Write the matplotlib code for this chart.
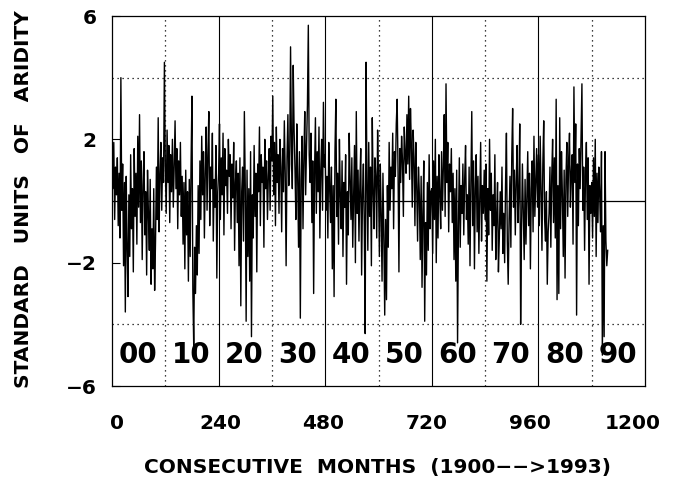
# aridity index, monthly, 1900 -> 1993
# values, one value per 2 months
# (each list is one decade, starts at month 120*k)

import numpy as np
import matplotlib.pyplot as plt
from matplotlib.transforms import ScaledTranslation

d1900 = [1.6, 0.4, 1.9, -0.6, 1.1, 0.2, 1.4, -0.8, 0.9, -1.2, 4.0, -0.3, 1.2, -2.1, 0.6,
         -3.6, 0.8, -1.5, -3.1, 0.2, -1.8, 1.5, -0.9, 0.4, -2.3, 1.7, -0.5, 0.9, -1.4, 2.1,
         -0.2, 2.8, -0.7, 1.3, -1.9, 0.5, 1.6, -1.1, 0.3, -2.4, 1.0, -0.4, -1.6, 0.7, -2.7,
         -0.9, -2.2, 0.4, -2.9, -1.3, 1.1, -0.6, 2.7, -1.0, 0.8, 1.9, -0.3, 1.4, 0.6, 4.5]
d1910 = [1.2, -0.4, 2.3, 0.6, 1.8, -0.7, 1.5, 0.3, 2.0, -0.2, 1.1, 2.6, 0.4, 1.7, -0.9,
         1.3, 0.2, 1.9, -0.5, 0.8, -1.4, 0.6, -2.2, 1.0, -1.1, 0.3, -2.6, 0.7, -1.8, 1.2,
         3.4, -2.9, -4.7, -1.5, -3.0, -0.8, -2.4, 0.5, -1.7, 1.3, -0.6, 2.1, 0.2, 1.6, -1.2,
         0.9, 2.4, -0.3, 1.5, 2.9, -0.8, 1.1, 0.4, 2.2, -1.3, 0.7, -0.2, 1.8, -2.5, 0.3]
d1920 = [0.9, 2.5, -0.6, 1.4, 0.2, 2.2, -1.1, 1.7, 0.5, 1.0, -0.4, 2.0, 0.8, 1.5, -0.9,
         1.2, 0.1, 1.9, -1.6, 0.6, 1.3, -0.7, 0.9, -2.1, 1.4, -3.4, 0.3, 1.1, -1.3, 2.9,
         0.5, -3.9, 1.0, -1.8, 0.4, -2.6, 1.6, -4.4, 0.2, -1.2, 1.8, -0.5, 0.9, -2.3, 1.2,
         0.3, 2.4, -0.8, 1.5, 0.6, 1.1, -1.5, 2.0, 0.4, 1.3, -0.6, 0.8, 1.7, -0.3, 2.1]
d1930 = [1.3, 3.4, 0.2, 1.9, -0.8, 2.4, 0.6, 1.5, -0.4, 2.0, 1.1, -1.0, 1.7, 0.3, 2.6,
         0.9, -2.1, 1.4, 2.8, 0.5, 1.2, 5.0, 1.8, 0.4, 4.4, 2.3, 1.0, -0.6, 2.5, 0.8,
         -1.5, 1.6, -3.8, 0.7, 2.1, -0.9, 1.4, 2.9, 0.2, 1.8, 3.1, 5.7, 1.5, 0.6, 2.2,
         -0.7, 1.3, -3.0, 0.9, 2.7, -0.4, 1.6, 0.3, 2.4, -1.2, 1.0, 2.0, -0.3, 3.2, 1.1]
d1940 = [1.5, -0.3, 0.8, -1.2, 1.9, 0.4, -0.7, 1.1, -2.2, 0.5, -3.1, 1.6, 3.3, -0.5, 0.9,
         -1.4, 2.0, 0.2, -0.9, 1.3, -1.8, 0.6, -0.2, 1.5, -2.7, 0.3, -1.1, 2.2, 0.7, -0.6,
         1.4, -1.5, 0.1, 1.8, -2.0, 2.9, -0.4, 1.0, -1.3, 0.5, 1.7, -2.4, 0.2, 1.2, -0.8,
         -4.3, 4.5, 0.6, -1.6, 1.9, -0.5, 1.1, -2.1, 2.7, 0.3, -0.9, 1.4, 0.8, -1.2, 2.3]
d1950 = [0.7, -1.8, 1.2, -0.4, -2.6, 0.9, -1.1, -3.7, -0.6, -3.2, 0.5, -1.5, 1.9, -0.3, 1.1,
         0.4, 2.2, -0.9, 1.6, 0.8, 2.5, 3.3, 1.0, -2.3, 1.7, 0.6, 2.1, 1.3, -0.5, 2.4,
         1.5, 0.9, 2.8, 1.2, 3.4, 0.7, 3.0, 1.8, -0.2, 2.3, 1.4, -0.8, 1.9, 0.5, -1.3,
         1.1, 0.2, -1.9, 0.8, -2.8, -0.4, 1.3, -3.9, -0.7, -2.4, 0.6, -1.6, 1.5, -0.9, 0.3]
d1960 = [0.4, -1.7, 1.3, -0.6, 2.0, -2.0, 0.8, -1.2, 1.5, 0.2, -0.9, 1.6, -0.3, 1.1, 2.8,
         -0.5, 3.8, 0.6, 1.9, -1.0, 1.2, 0.3, 1.7, -0.7, 0.9, -1.9, 0.4, -2.6, 1.0, -4.6,
         -0.8, 1.4, -1.5, 0.5, -0.4, 1.2, -1.1, 0.7, 1.8, -0.6, 0.2, -1.4, 1.1, -2.1, 0.6,
         2.9, -0.8, 1.3, -2.2, 0.4, 1.5, -1.0, 0.8, -1.7, 0.1, 1.9, -1.3, 0.5, -0.4, 1.0]
d1970 = [-0.6, 1.2, -2.6, 0.4, -1.1, 2.0, -0.3, 0.9, -1.6, 0.2, -0.8, 1.5, -1.9, -0.5, 0.6,
         -2.3, -1.2, 0.3, -0.9, 1.1, -1.7, -0.4, -2.0, 0.5, 2.2, -1.3, -2.7, -0.6, 0.8, -1.5,
         1.4, 3.0, -0.2, 1.0, -1.1, 0.6, 1.8, -0.7, 0.3, 2.5, -4.0, -0.9, 1.2, -0.3, -1.9,
         0.7, -1.4, 0.2, 1.6, -0.8, 0.9, -2.2, 0.4, 1.3, -1.0, 2.1, -0.5, 0.6, 1.7, -0.2]
d1980 = [1.5, -0.8, 2.1, 0.4, -1.6, 1.2, 2.6, -0.6, -1.3, 0.3, -2.7, -1.0, -0.4, 1.1, -1.5,
         0.8, 2.0, -0.7, 1.4, -1.2, 3.3, -3.2, 0.5, -3.0, 2.7, -0.9, 1.6, 0.2, -1.8, 1.0,
         -2.5, 0.7, 1.9, -0.5, 1.3, 2.2, -0.2, 0.9, 1.5, -1.4, 3.7, 0.6, 2.5, -3.7, 1.2,
         -0.8, 1.7, 0.4, 2.0, 3.8, -0.3, 1.1, -1.6, 0.8, 1.9, -0.6, 1.4, -2.7, 0.5, -0.4]
d1990 = [0.6, -1.2, 1.4, -0.5, 2.0, -1.8, 0.9, -0.7, 1.1, 0.2, -1.0, 1.6, -5.0, -0.8, -4.4,
         1.6, -1.3, -2.1, -1.6]

decades = [d1900, d1910, d1920, d1930, d1940, d1950, d1960, d1970, d1980, d1990]
decade_labels = ["00", "10", "20", "30", "40", "50", "60", "70", "80", "90"]

xticks = [0, 240, 480, 720, 960, 1200]
yticks = [-6, -2, 2, 6]

months = []
vals = []
for k, d in enumerate(decades):
    months += [120 * k + 2 * i for i in range(len(d))]
    vals += d
months = np.array(months)
vals = np.array(vals)

fig = plt.figure(figsize=(6.91, 4.91), dpi=100)
ax = fig.add_axes([112 / 691, 1 - 386 / 491, 533 / 691, 370 / 491])

ax.plot(months, vals, color="black", lw=1.0, zorder=3)

# grid: solid every 240 months, dotted in between
for m in range(120, 1200, 120):
    if m % 240 == 0:
        ax.axvline(m, color="black", lw=0.8, zorder=2)
    else:
        ax.axvline(m, color="black", lw=0.9, ls=(0, (1, 3)), zorder=2)
for yv in [4, -4]:
    ax.axhline(yv, color="black", lw=0.9, ls=(0, (1, 3)), zorder=2)
ax.axhline(0, color="black", lw=0.9, zorder=2)

for k, lab in enumerate(decade_labels):
    ax.text(58 + 120 * k, -5, lab, ha="center", va="center",
            fontsize=20, fontweight="bold", family="DejaVu Sans", zorder=1)

ax.set_xlim(0, 1200)
ax.set_ylim(-6, 6)
ax.set_xticks(xticks)
ax.set_yticks(yticks)
ax.set_xticklabels([str(t) for t in xticks], fontsize=14.5, fontweight="bold")
ax.set_yticklabels([str(t).replace("-", "\u2212") for t in yticks], fontsize=14.5,
                   fontweight="bold")
ax.tick_params(axis="x", length=0, pad=20)
ax.tick_params(axis="y", direction="in", length=6, width=0.8, pad=11)
for s in ax.spines.values():
    s.set_linewidth(0.9)

# the old plot has its month labels a bit squeezed toward the middle
for i, lbl in enumerate(ax.get_xticklabels()):
    shift = (5 - 17 * i / 5) / 100
    lbl.set_transform(lbl.get_transform() + ScaledTranslation(shift, 0, fig.dpi_scale_trans))

fig.text(378 / 691, 1 - 468 / 491, "CONSECUTIVE  MONTHS  (1900\u2212\u2212>1993)",
         ha="center", va="center", fontsize=14.5, fontweight="bold")
fig.text(24 / 691, 1 - 199 / 491, "STANDARD   UNITS   OF   ARIDITY", rotation=90,
         ha="center", va="center", fontsize=14.5, fontweight="bold")

fig.savefig("out.png", dpi=100)
